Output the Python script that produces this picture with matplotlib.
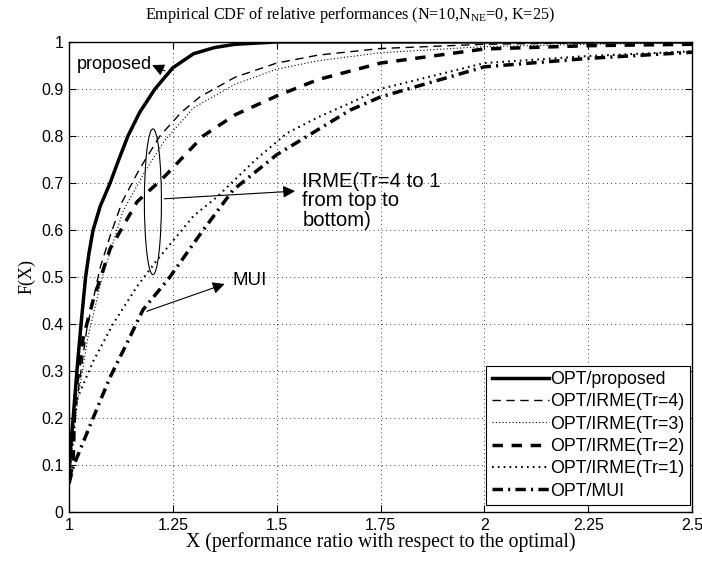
# Empirical CDF of relative performances - recreated chart
import matplotlib.pyplot as plt
from matplotlib.patches import Ellipse

# CDF curves
x_proposed = [1.0, 1.005, 1.01, 1.019, 1.029, 1.04, 1.048, 1.058, 1.075, 1.099, 1.12, 1.142, 1.17, 1.207, 1.25, 1.3, 1.35, 1.4, 1.5, 2.5]
y_proposed = [0.08, 0.15, 0.2, 0.3, 0.4, 0.5, 0.55, 0.6, 0.65, 0.7, 0.75, 0.8, 0.85, 0.9, 0.945, 0.975, 0.988, 0.995, 1.0, 1.0]

x_tr4 = [1.0, 1.01, 1.024, 1.043, 1.075, 1.1, 1.128, 1.17, 1.219, 1.27, 1.315, 1.4, 1.5, 1.6, 1.75, 2.0, 2.25, 2.5]
y_tr4 = [0.08, 0.18, 0.27, 0.39, 0.52, 0.59, 0.66, 0.73, 0.8, 0.85, 0.883, 0.925, 0.955, 0.972, 0.986, 0.995, 0.998, 1.0]

x_tr3 = [1.0, 1.01, 1.025, 1.045, 1.08, 1.13, 1.18, 1.23, 1.3, 1.4, 1.5, 1.6, 1.75, 2.0, 2.25, 2.5]
y_tr3 = [0.07, 0.17, 0.26, 0.37, 0.5, 0.64, 0.72, 0.79, 0.86, 0.91, 0.942, 0.96, 0.977, 0.99, 0.995, 0.998]

x_tr2 = [1.0, 1.01, 1.014, 1.034, 1.058, 1.099, 1.164, 1.226, 1.323, 1.4, 1.5, 1.6, 1.75, 2.0, 2.25, 2.5]
y_tr2 = [0.07, 0.1, 0.24, 0.37, 0.45, 0.56, 0.66, 0.71, 0.8, 0.845, 0.885, 0.92, 0.955, 0.985, 0.992, 0.995]

x_tr1 = [1.0, 1.01, 1.019, 1.058, 1.106, 1.164, 1.212, 1.3, 1.356, 1.45, 1.525, 1.6, 1.677, 1.75, 2.0, 2.25, 2.5]
y_tr1 = [0.08, 0.15, 0.24, 0.32, 0.4, 0.48, 0.536, 0.63, 0.67, 0.75, 0.806, 0.84, 0.87, 0.9, 0.955, 0.97, 0.98]

x_mui = [1.0, 1.01, 1.058, 1.099, 1.14, 1.178, 1.243, 1.315, 1.395, 1.5, 1.556, 1.677, 1.75, 2.0, 2.25, 2.5]
y_mui = [0.06, 0.096, 0.2, 0.287, 0.36, 0.43, 0.5, 0.59, 0.685, 0.76, 0.79, 0.855, 0.883, 0.947, 0.965, 0.978]

x_ticks = [1, 1.25, 1.5, 1.75, 2, 2.25, 2.5]
x_ticklabels = ['1', '1.25', '1.5', '1.75', '2', '2.25', '2.5']
y_ticks = [0, 0.1, 0.2, 0.3, 0.4, 0.5, 0.6, 0.7, 0.8, 0.9, 1]
y_ticklabels = ['0', '0.1', '0.2', '0.3', '0.4', '0.5', '0.6', '0.7', '0.8', '0.9', '1']

serif = 'Liberation Serif'
sans = 'Liberation Sans'

fig = plt.figure(figsize=(7.02, 5.62), dpi=100)
ax = fig.add_axes([0.0983, 0.089, 0.8875, 0.8364])

ax.plot(x_proposed, y_proposed, color='k', lw=2.5, ls='-', label='OPT/proposed')
ax.plot(x_tr4, y_tr4, color='k', lw=1.0, ls=(0, (6, 4)), label='OPT/IRME(Tr=4)')
ax.plot(x_tr3, y_tr3, color='k', lw=0.8, ls=(0, (1, 2)), label='OPT/IRME(Tr=3)')
ax.plot(x_tr2, y_tr2, color='k', lw=2.5, ls=(0, (3, 2.5)), label='OPT/IRME(Tr=2)')
ax.plot(x_tr1, y_tr1, color='k', lw=1.5, ls=(0, (0.8, 2)), label='OPT/IRME(Tr=1)')
ax.plot(x_mui, y_mui, color='k', lw=2.5, ls=(0, (3, 1.5, 0.6, 1.5)), label='OPT/MUI')

ax.set_xlim(1, 2.5)
ax.set_ylim(0, 1)
ax.set_xticks(x_ticks)
ax.set_xticklabels(x_ticklabels, fontname=sans, fontsize=11.5)
ax.set_yticks(y_ticks)
ax.set_yticklabels(y_ticklabels, fontname=sans, fontsize=11.5)
ax.tick_params(direction='in', top=True, right=True, length=5, width=0.8, pad=4)
ax.grid(True, color='k', ls=(0, (1, 4)), lw=0.6)
for s in ax.spines.values():
    s.set_linewidth(1.0)

fig.text(0.4986, 0.974, 'Empirical CDF of relative performances (N=10,N$_{\\mathregular{NE}}$=0, K=25)',
         fontname=serif, fontsize=11.7, ha='center', va='center')
ax.set_xlabel('X (performance ratio with respect to the optimal)', fontname=serif, fontsize=14.2, labelpad=0)
ax.set_ylabel('F(X)', fontname=serif, fontsize=13, labelpad=4)

# annotations
ax.text(1.019, 0.953, 'proposed', fontsize=13, fontname=sans, va='center', ha='left')
ax.annotate('', xy=(1.194, 0.953), xytext=(1.237, 0.936),
            arrowprops=dict(arrowstyle='-|>', color='k', lw=0.8, mutation_scale=18))
ax.add_patch(Ellipse((1.202, 0.66), 0.041, 0.31, fill=False, ec='k', lw=0.8))
ax.annotate('', xy=(1.551, 0.683), xytext=(1.223, 0.666),
            arrowprops=dict(arrowstyle='-|>', color='k', lw=0.8, mutation_scale=18))
ax.text(1.562, 0.724, 'IRME(Tr=4 to 1\nfrom top to\nbottom)', fontsize=14.6, fontname=sans,
        va='top', ha='left', linespacing=1.05)
ax.annotate('', xy=(1.381, 0.487), xytext=(1.181, 0.425),
            arrowprops=dict(arrowstyle='-|>', color='k', lw=0.8, mutation_scale=18))
ax.text(1.393, 0.492, 'MUI', fontsize=13.5, fontname=sans, va='center', ha='left')

leg = ax.legend(loc='lower right', bbox_to_anchor=(0.9968, 0.015), borderaxespad=0,
                prop={'family': sans, 'size': 12.8}, fancybox=False, edgecolor='k',
                framealpha=1, handlelength=3.2, borderpad=0.3, labelspacing=0.3,
                handletextpad=0.1)
leg.get_frame().set_linewidth(0.8)

fig.savefig('out.png', dpi=100)
